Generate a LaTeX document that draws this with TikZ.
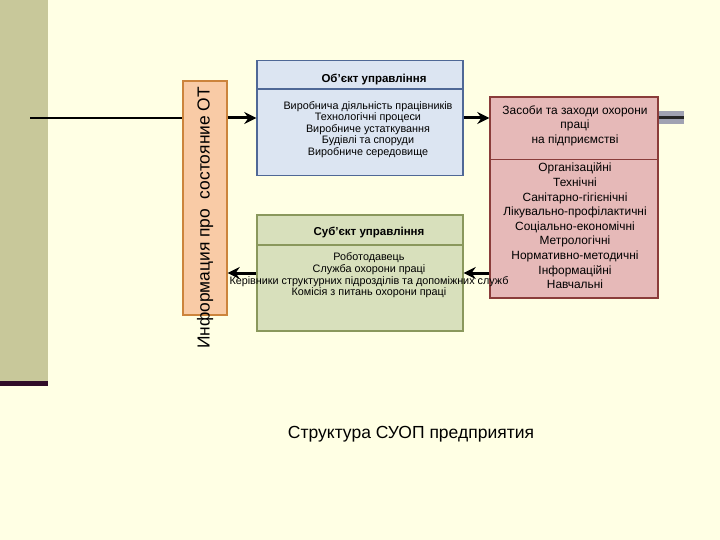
\documentclass[tikz,border=0pt]{standalone}
\usepackage{fontspec}
\setmainfont{Liberation Sans}
\usepackage{tikz}
\usetikzlibrary{
  arrows.meta,
  positioning
}
\definecolor{PageCream}{RGB}{255, 255, 228}
\definecolor{StripOlive}{RGB}{200, 200, 154}
\definecolor{StripPlum}{RGB}{48, 12, 40}
\definecolor{InfoFill}{RGB}{249, 203, 166}
\definecolor{InfoLine}{RGB}{204, 132, 60}
\definecolor{ObjFill}{RGB}{220, 229, 242}
\definecolor{ObjLine}{RGB}{79, 104, 150}
\definecolor{SubjFill}{RGB}{216, 224, 188}
\definecolor{SubjLine}{RGB}{138, 152, 92}
\definecolor{MeansFill}{RGB}{230, 185, 184}
\definecolor{MeansLine}{RGB}{138, 60, 58}
\definecolor{StubGray}{RGB}{160, 162, 178}
\tikzset{
    panel/.style={rectangle, inner sep=0pt, line width=1.4pt},
    headtext/.style={inner sep=0pt, font=\fontsize{11.5}{13}\selectfont\bfseries},
    smalltext/.style={inner sep=0pt, align=center, font=\fontsize{10.8}{11.6}\selectfont},
    bigtext/.style={inner sep=0pt, align=center, font=\fontsize{11.9}{14.6}\selectfont},
    flow/.style={line width=3pt, -{Stealth[length=12pt, width=12pt, inset=4pt]}}
}

\begin{document}
\begin{tikzpicture}[x=1pt, y=-1pt]
    % page and side strip
    \fill[PageCream] (0,0) rectangle (720,540);
    \fill[StripOlive] (0,0) rectangle (48,381);
    \fill[StripPlum] (0,381) rectangle (48,385.5);

    % row levels
    \coordinate (toprow) at (0,118);
    \coordinate (botrow) at (0,273);
    \coordinate (feed) at (30,118);
    \coordinate (stub) at (684,118);

    % information box
    \node[panel, draw=InfoLine, fill=InfoFill, minimum width=44, minimum height=234] (info) at (205,198) {};
    \node[inner sep=0pt, rotate=90, font=\fontsize{17.4}{19}\selectfont] (infotext) at (205,218) {Информация про \ состояние ОТ};

    % object of management
    \node[panel, draw=ObjLine, fill=ObjFill, minimum width=206, minimum height=115] (obj) at (360,118) {};
    \coordinate (objcut) at (0,89);
    \draw[ObjLine, line width=1.4pt] (obj.west |- objcut) -- (obj.east |- objcut);
    \node[headtext] (objhead) at (374,79) {Об'єкт управління};
    \node[smalltext] (objbody) at (368,129.5) {
        Виробнича діяльність працівників\\
        Технологічні процеси\\
        Виробниче устаткування\\
        Будівлі та споруди\\
        Виробниче середовище
    };

    % means and measures
    \node[panel, draw=MeansLine, fill=MeansFill, minimum width=168, minimum height=201] (means) at (574,197.5) {};
    \coordinate (meanscut) at (0,159.5);
    \draw[MeansLine, line width=1.4pt] (means.west |- meanscut) -- (means.east |- meanscut);
    \node[bigtext] (meanshead) at (575,125.5) {
        Засоби та заходи охорони\\
        праці\\
        на підприємстві
    };
    \node[bigtext] (meansbody) at (575,226) {
        Організаційні\\
        Технічні\\
        Санітарно-гігієнічні\\
        Лікувально-профілактичні\\
        Соціально-економічні\\
        Метрологічні\\
        Нормативно-методичні\\
        Інформаційні\\
        Навчальні
    };

    % subject of management
    \node[panel, draw=SubjLine, fill=SubjFill, minimum width=206, minimum height=116] (subj) at (360,273) {};
    \coordinate (subjcut) at (0,245);
    \draw[SubjLine, line width=1.4pt] (subj.west |- subjcut) -- (subj.east |- subjcut);
    \node[headtext] (subjhead) at (369,232) {Суб'єкт управління};
    \node[smalltext] (subjbody) at (369,275.5) {
        Роботодавець\\
        Служба охорони праці\\
        Керівники структурних підрозділів та допоміжних служб\\
        Комісія з питань охорони праці
    };

    % connectors
    \draw[line width=1.8pt] (feed) -- (info.west |- feed);
    \draw[flow] (info.east |- toprow) -- (obj.west |- toprow);
    \draw[flow] (obj.east |- toprow) -- (means.west |- toprow);
    \draw[StubGray, line width=13pt] (means.east |- stub) -- (stub);
    \draw[black!85, line width=3pt] (means.east |- stub) -- (stub);
    \draw[flow] (means.west |- botrow) -- (subj.east |- botrow);
    \draw[flow] (subj.west |- botrow) -- (info.east |- botrow);

    % caption
    \node[inner sep=0pt, font=\fontsize{17.5}{19}\selectfont] (caption) at (411,434) {Структура СУОП предприятия};
\end{tikzpicture}
\end{document}
